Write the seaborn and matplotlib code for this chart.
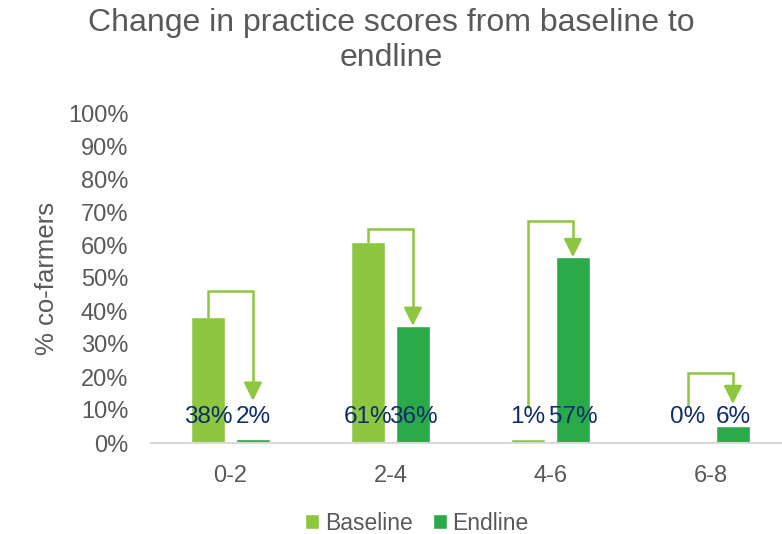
import pandas as pd
import matplotlib.pyplot as plt
import seaborn as sns

# data
scores = ["0-2", "2-4", "4-6", "6-8"]
baseline = [38.2, 60.8, 1.2, 0.0]
endline = [1.2, 35.5, 56.3, 5.2]
baseline_labels = ["38%", "61%", "1%", "0%"]
endline_labels = ["2%", "36%", "57%", "6%"]
# bracket arrows: start level, top level, end level
arrow_start = [38.2, 60.8, 11.0, 11.5]
arrow_top = [46.2, 65.0, 67.3, 21.1]
arrow_end = [12.8, 35.5, 56.3, 11.8]

df = pd.DataFrame({
    "score": scores * 2,
    "pct": baseline + endline,
    "survey": ["Baseline"] * 4 + ["Endline"] * 4,
})

light_green = "#8DC63F"
dark_green = "#2BAA4A"
gray = "#595959"
navy = "#0D2C6C"

sns.set_style("white")
plt.rcParams["font.family"] = ["Liberation Sans", "DejaVu Sans"]

fig = plt.figure(figsize=(7.82, 5.34), dpi=100)
ax = fig.add_axes([150.5 / 782, 91 / 534, 640 / 782, 330 / 534])

sns.barplot(data=df, x="score", y="pct", hue="survey",
            palette=[light_green, dark_green], width=0.56, gap=0.25,
            saturation=1, ax=ax)

ax.set_ylim(0, 100)
ax.set_xlim(-0.5, 3.5)
ax.set_yticks(range(0, 101, 10))
ax.set_yticklabels([f"{v}%" for v in range(0, 101, 10)])
ax.tick_params(axis="y", length=0, pad=16, labelsize=17, labelcolor=gray)
ax.tick_params(axis="x", length=0, pad=16, labelsize=17, labelcolor=gray)
ax.set_xlabel("")
ax.set_ylabel("% co-farmers", fontsize=18.5, color=gray, labelpad=6)
for side in ["top", "right", "left"]:
    ax.spines[side].set_visible(False)
ax.spines["bottom"].set_color("#D9D9D9")
ax.spines["bottom"].set_linewidth(1.5)

base_bars = ax.containers[0]
end_bars = ax.containers[1]
for i in range(len(scores)):
    bx = base_bars[i].get_x() + base_bars[i].get_width() / 2
    ex = end_bars[i].get_x() + end_bars[i].get_width() / 2
    ax.plot([bx, bx, ex, ex], [arrow_start[i], arrow_top[i], arrow_top[i], arrow_end[i] + 3],
            color=light_green, lw=1.8, solid_joinstyle="miter", zorder=3)
    ax.annotate("", xy=(ex, arrow_end[i]), xytext=(ex, arrow_end[i] + 4),
                arrowprops=dict(arrowstyle="-|>,head_length=1.1,head_width=0.55",
                                color=light_green, lw=1.8, shrinkA=0, shrinkB=0),
                zorder=3)
    ax.text(bx, 8, baseline_labels[i], ha="center", va="center",
            fontsize=17.5, color=navy, zorder=4)
    ax.text(ex, 8, endline_labels[i], ha="center", va="center",
            fontsize=17.5, color=navy, zorder=4)

sns.move_legend(ax, "center", bbox_to_anchor=(417 / 782, 11 / 534),
                bbox_transform=fig.transFigure, ncol=2, frameon=False,
                title=None, fontsize=16.5, handlelength=0.6, handleheight=0.6,
                handletextpad=0.25, columnspacing=0.9)
for t in ax.get_legend().get_texts():
    t.set_color(gray)

fig.text(0.5, 1 - 23 / 534, "Change in practice scores from baseline to",
         ha="center", va="center", fontsize=23, color=gray)
fig.text(0.5, 1 - 58 / 534, "endline", ha="center", va="center",
         fontsize=23, color=gray)

fig.savefig("out.png", dpi=100)
